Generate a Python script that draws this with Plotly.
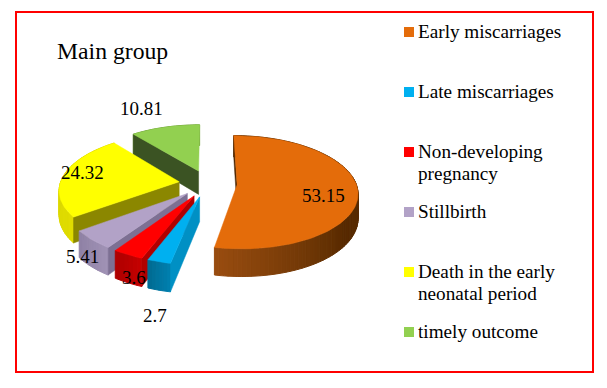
import math
import plotly.graph_objects as go

title = "Main group"
categories = ["Early miscarriages", "Late miscarriages", "Non-developing<br>pregnancy",
              "Stillbirth", "Death in the early<br>neonatal period", "timely outcome"]
values = [53.15, 2.7, 3.6, 5.41, 24.32, 10.81]
value_labels = ["53.15", "2.7", "3.6", "5.41", "24.32", "10.81"]

top_colors = ["#E46C0A", "#00B0F0", "#FF0000", "#B2A2C7", "#FFFF00", "#92D050"]
face_colors = ["#4A2400", "#0090C4", "#B00000", "#7D7093", "#8B8700", "#3B5323"]
rim_left = ["#9A4D10", "#007FAE", "#C40000", "#A092B5", "#E0DC00", "#6F9E3A"]
rim_right = ["#572A00", "#006C94", "#B00000", "#8F81A5", "#D6D200", "#6F9E3A"]
label_pos = [(323, 195), (155, 315), (134, 277), (82, 256), (82, 172), (141, 108)]

CX, CY, A, B, P, DEPTH, EXPLODE = 208, 183.5, 119, 55.3, 0.13, 24, 0.245
draw_order = [5, 4, 0, 3, 2, 1]


def project(X, Y, drop=0):
    s = 1 / (1 + P * Y)
    return CX + A * X * s, CY - B * Y * s + drop * s


def hexmix(a, b, t):
    ca = [int(a[i:i + 2], 16) for i in (1, 3, 5)]
    cb = [int(b[i:i + 2], 16) for i in (1, 3, 5)]
    return "#%02X%02X%02X" % tuple(round(x + (y - x) * t) for x, y in zip(ca, cb))


def poly(pts, color, width=0.5):
    return go.Scatter(x=[p[0] for p in pts] + [pts[0][0]], y=[p[1] for p in pts] + [pts[0][1]],
                      mode="lines", fill="toself", fillcolor=color,
                      line=dict(width=width, color=color), hoverinfo="skip", showlegend=False)


total = sum(values)
starts, acc = [], 0.0
for v in values:
    starts.append(acc / total * 2 * math.pi)
    acc += v

fig = go.Figure()
for i in draw_order:
    a0 = starts[i]
    a1 = a0 + values[i] / total * 2 * math.pi
    mid = (a0 + a1) / 2
    ex, ey = EXPLODE * math.sin(mid), EXPLODE * math.cos(mid)
    n = max(6, int((a1 - a0) * 30))
    ang = [a0 + (a1 - a0) * k / n for k in range(n + 1)]
    rim = [(ex + math.sin(t), ey + math.cos(t)) for t in ang]
    # outer rim, painted from the late angle (left) towards the early one (right)
    for k in range(n):
        t = 1 - k / max(n - 1, 1)
        if i == 0:
            t = min(1.0, (ang[k] - math.pi / 2) / (a1 - math.pi / 2)) if ang[k] > math.pi / 2 else 0
            t = max(0.0, (t - 0.35) / 0.65)
        c = hexmix(rim_right[i], rim_left[i], t)
        fig.add_trace(poly([project(*rim[k]), project(*rim[k + 1]),
                            project(*rim[k + 1], DEPTH), project(*rim[k], DEPTH)], c, 1))
    # cut face at the slice start
    fig.add_trace(poly([project(ex, ey), project(*rim[0]),
                        project(*rim[0], DEPTH), project(ex, ey, DEPTH)], face_colors[i]))
    # top surface
    fig.add_trace(poly([project(ex, ey)] + [project(*p) for p in rim], top_colors[i]))

serif = "Liberation Serif"
for lab, (x, y) in zip(value_labels, label_pos):
    fig.add_annotation(x=x, y=y, text=lab, showarrow=False, xanchor="center", yanchor="middle",
                       font=dict(family=serif, size=19, color="black"))

# legend
for k, (name, col) in enumerate(zip(categories, top_colors)):
    y = 32 + 60 * k
    fig.add_trace(go.Scatter(x=[409], y=[y], mode="markers", name=name.replace("<br>", " "),
                             marker=dict(symbol="square", size=10, color=col, line=dict(width=0)),
                             hoverinfo="skip", showlegend=False))
    for j, line in enumerate(name.split("<br>")):
        fig.add_annotation(x=416, y=y - 1 + 22 * j, text=line, showarrow=False, xanchor="left",
                           yanchor="middle", font=dict(family=serif, size=19.2, color="black"))

fig.add_annotation(x=55, y=51, text=title, showarrow=False, xanchor="left", yanchor="middle",
                   font=dict(family=serif, size=23.7, color="black"))
fig.add_shape(type="rect", x0=16, y0=12, x1=593, y1=372, line=dict(color="#FF0000", width=2), layer="below")

fig.update_layout(width=607, height=388, margin=dict(l=0, r=0, t=0, b=0), paper_bgcolor="white",
                  plot_bgcolor="white", showlegend=False,
                  xaxis=dict(range=[0, 607], visible=False, fixedrange=True),
                  yaxis=dict(range=[388, 0], visible=False, fixedrange=True))
fig.write_html("out.html", config={"displayModeBar": False},
               post_script="document.body.style.margin='0';document.body.style.overflow='hidden';")
